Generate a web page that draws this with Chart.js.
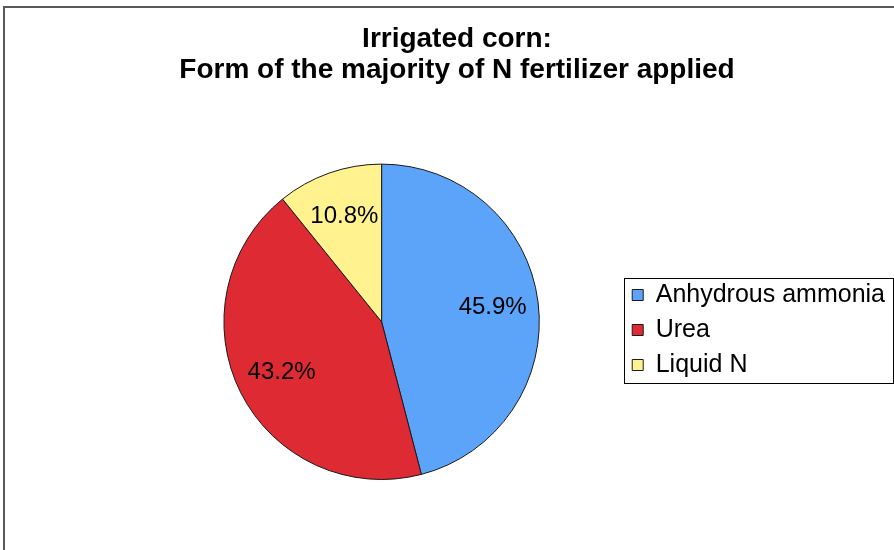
<!DOCTYPE html>
<html lang="en">
<head>
    <meta charset="UTF-8">
    <title>Irrigated corn - N fertilizer form</title>
    <style>
        body {
            margin: 0;
            padding: 0;
            background-color: #fff;
            overflow: hidden;
        }

        /* chart frame, runs off the right and bottom edge like the original */
        .frame {
            position: absolute;
            left: 3px;
            top: 6px;
            width: 906px;
            height: 600px;
            border: 2px solid #5a5a5a;
        }

        .frame canvas {
            position: absolute;
            left: 0;
            top: 0;
        }
    </style>
</head>
<body>
    <div class="frame">
        <canvas id="fertChart" width="906" height="550"></canvas>
    </div>

    <script src="https://cdn.jsdelivr.net/npm/chart.js"></script>
    <script>
        // Data
        const fertForms = ['Anhydrous ammonia', 'Urea', 'Liquid N'];
        const fertShare = [45.9, 43.2, 10.8]; // percent of respondents
        const sliceColors = ['#5BA4FA', '#DE2B33', '#FFF28F'];
        const titleLines = ['Irrigated corn:', 'Form of the majority of N fertilizer applied'];

        const fontFamily = '"Liberation Sans", Arial, sans-serif';

        // percent labels inside each slice
        const sliceLabels = {
            id: 'sliceLabels',
            afterDatasetsDraw(chart) {
                const ctx = chart.ctx;
                const meta = chart.getDatasetMeta(0);
                ctx.save();
                ctx.font = '24px ' + fontFamily;
                ctx.fillStyle = '#000';
                ctx.textAlign = 'center';
                ctx.textBaseline = 'middle';
                meta.data.forEach(function(arc, i) {
                    const mid = (arc.startAngle + arc.endAngle) / 2;
                    const r = arc.outerRadius * 0.71;
                    ctx.fillText(fertShare[i].toFixed(1) + '%', arc.x + Math.cos(mid) * r, arc.y + Math.sin(mid) * r);
                });
                ctx.restore();
            }
        };

        // title is centred over the whole frame, not over pie + legend
        const titleCentre = {
            id: 'titleCentre',
            afterLayout(chart) {
                const t = chart.titleBlock;
                if (!t) return;
                t.left = 0;
                t.right = 904;
                t.width = 904;
            }
        };

        // box round the legend
        const legendBox = {
            id: 'legendBox',
            afterDraw(chart) {
                const boxes = chart.legend.legendHitBoxes;
                if (!boxes || !boxes.length) return;
                let left = Infinity, right = -Infinity, top = Infinity, bottom = -Infinity;
                boxes.forEach(function(b) {
                    left = Math.min(left, b.left);
                    right = Math.max(right, b.left + b.width);
                    top = Math.min(top, b.top);
                    bottom = Math.max(bottom, b.top + b.height);
                });
                const ctx = chart.ctx;
                ctx.save();
                ctx.strokeStyle = '#000';
                ctx.lineWidth = 1;
                ctx.strokeRect(Math.round(left - 8) + 0.5, Math.round(top - 5) + 0.5,
                    Math.round(right - left + 16), Math.round(bottom - top + 10));
                ctx.restore();
            }
        };

        const ctx = document.getElementById('fertChart').getContext('2d');
        const fertChart = new Chart(ctx, {
            type: 'pie',
            data: {
                labels: fertForms,
                datasets: [{
                    data: fertShare,
                    backgroundColor: sliceColors,
                    borderColor: '#1a1a1a',
                    borderWidth: 1
                }]
            },
            options: {
                responsive: false,
                animation: false,
                events: [],
                layout: {
                    padding: { left: 136, right: 16, top: 0, bottom: 78 }
                },
                plugins: {
                    title: {
                        display: true,
                        text: titleLines,
                        color: '#000',
                        font: { family: fontFamily, size: 28, weight: 'bold', lineHeight: 1.1 },
                        padding: { top: 16, bottom: 78 }
                    },
                    legend: {
                        position: 'right',
                        fullSize: false,
                        // empty title only pushes the items a little lower
                        title: {
                            display: true,
                            text: ' ',
                            font: { size: 12, lineHeight: 1.2 },
                            padding: 1
                        },
                        labels: {
                            color: '#000',
                            font: { family: fontFamily, size: 25 },
                            boxWidth: 11,
                            boxHeight: 11,
                            padding: 10
                        }
                    },
                    tooltip: { enabled: false }
                }
            },
            plugins: [sliceLabels, titleCentre, legendBox]
        });
    </script>
</body>
</html>
